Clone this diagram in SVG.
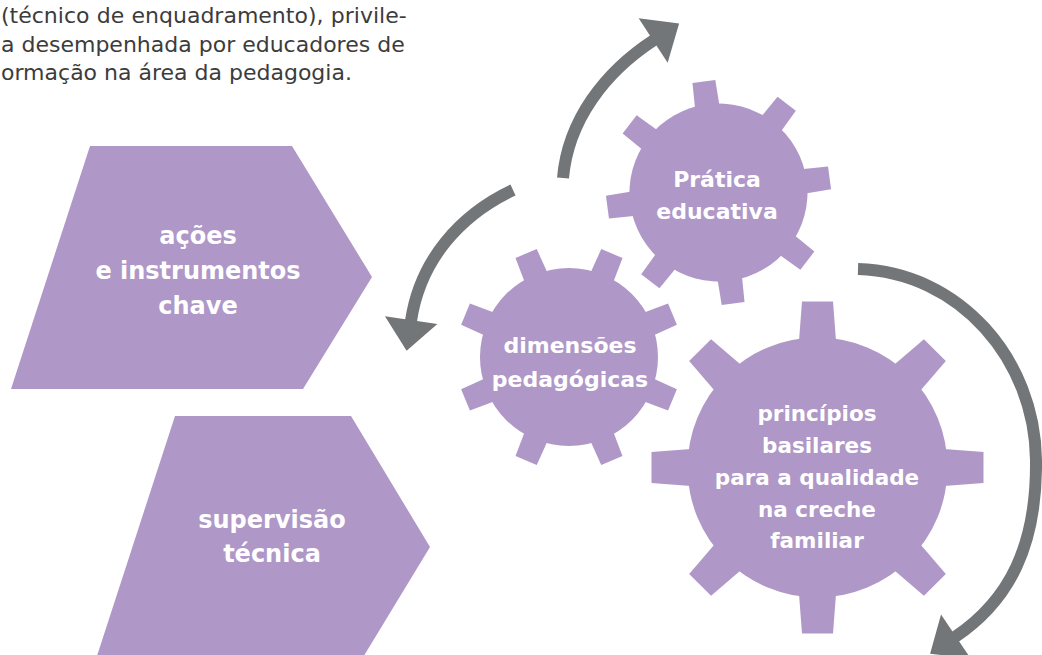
<svg xmlns="http://www.w3.org/2000/svg" xmlns:xlink="http://www.w3.org/1999/xlink" width="1042" height="655" viewBox="0 0 1042 655">
<style>
.shape{fill:#AF97C7}
.lbl{font-family:"DejaVu Sans","Liberation Sans",sans-serif;font-weight:bold;fill:#FFFFFF;text-anchor:middle}
.para{font-family:"DejaVu Sans","Liberation Sans",sans-serif;font-size:22px;fill:#3c3c3c}
.arrow{fill:none;stroke:#727679;stroke-width:12;marker-end:url(#head)}
</style>
<defs>
<marker id="head" markerUnits="userSpaceOnUse" viewBox="-2 -28 34 56" refX="0" refY="0" markerWidth="34" markerHeight="56" orient="auto">
<path d="M-1,-26.5 L30,0 L-1,26.5 Z" fill="#727679"/>
</marker>
<polygon id="toothL" points="-19,-120 19,-120 15.5,-166 -15.5,-166"/>
<polygon id="toothS" points="-12.5,-80 12.5,-80 11.5,-112 -11.5,-112"/>
</defs>
<rect width="1042" height="655" fill="#FFFFFF"/>
<g id="paragraph">
<text class="para" x="1" y="23" word-spacing="0.3">(técnico de enquadramento), privile-</text>
<text class="para" x="1" y="51.5" font-size="21.8">a desempenhada por educadores de</text>
<text class="para" x="1" y="80">ormação na área da pedagogia.</text>
</g>
<g id="node-acoes">
<polygon class="shape" points="90,146 292,146 372,277 303,389 11,389"/>
<text class="lbl" font-size="24" x="198" y="244">ações</text>
<text class="lbl" font-size="24" x="198" y="279">e instrumentos</text>
<text class="lbl" font-size="24" x="198" y="314">chave</text>
</g>
<g id="node-supervisao">
<polygon class="shape" points="175,416 351,416 430,547 362,659 96,659"/>
<text class="lbl" font-size="24" x="272" y="528">supervisão</text>
<text class="lbl" font-size="24" x="272" y="562">técnica</text>
</g>
<g id="node-pratica" transform="translate(718.5,192.5)">
<g class="shape" transform="rotate(-7.5)">
<circle r="89"/>
<use xlink:href="#toothS"/>
<use xlink:href="#toothS" transform="rotate(45)"/>
<use xlink:href="#toothS" transform="rotate(90)"/>
<use xlink:href="#toothS" transform="rotate(135)"/>
<use xlink:href="#toothS" transform="rotate(180)"/>
<use xlink:href="#toothS" transform="rotate(225)"/>
<use xlink:href="#toothS" transform="rotate(270)"/>
<use xlink:href="#toothS" transform="rotate(315)"/>
</g>
<text class="lbl" font-size="22" x="-1.5" y="-5.5">Prática</text>
<text class="lbl" font-size="22" x="-1.5" y="26.5">educativa</text>
</g>
<g id="node-dimensoes" transform="translate(569,357)">
<g class="shape" transform="rotate(22.5)">
<circle r="89"/>
<use xlink:href="#toothS"/>
<use xlink:href="#toothS" transform="rotate(45)"/>
<use xlink:href="#toothS" transform="rotate(90)"/>
<use xlink:href="#toothS" transform="rotate(135)"/>
<use xlink:href="#toothS" transform="rotate(180)"/>
<use xlink:href="#toothS" transform="rotate(225)"/>
<use xlink:href="#toothS" transform="rotate(270)"/>
<use xlink:href="#toothS" transform="rotate(315)"/>
</g>
<text class="lbl" font-size="22" x="1" y="-4">dimensões</text>
<text class="lbl" font-size="22" x="1" y="30">pedagógicas</text>
</g>
<g id="node-principios" transform="translate(817.5,467.5)">
<g class="shape">
<circle r="130"/>
<use xlink:href="#toothL"/>
<use xlink:href="#toothL" transform="rotate(45)"/>
<use xlink:href="#toothL" transform="rotate(90)"/>
<use xlink:href="#toothL" transform="rotate(135)"/>
<use xlink:href="#toothL" transform="rotate(180)"/>
<use xlink:href="#toothL" transform="rotate(225)"/>
<use xlink:href="#toothL" transform="rotate(270)"/>
<use xlink:href="#toothL" transform="rotate(315)"/>
</g>
<text class="lbl" font-size="21.5" x="-0.5" y="-46.5">princípios</text>
<text class="lbl" font-size="21.5" x="-0.5" y="-14.5">basilares</text>
<text class="lbl" font-size="21.5" x="-0.5" y="17.5">para a qualidade</text>
<text class="lbl" font-size="21.5" x="-0.5" y="49">na creche</text>
<text class="lbl" font-size="21.5" x="-0.5" y="80.5">familiar</text>
</g>
<g id="connectors">
<path class="arrow" d="M563,178 C568,120 605,72 654,40"/>
<path class="arrow" d="M513,190 C460,215 420,260 411,321"/>
<path class="arrow" d="M858,269 C960,272 1035,360 1036,460 C1037,545 1010,600 955,637"/>
</g>
</svg>
